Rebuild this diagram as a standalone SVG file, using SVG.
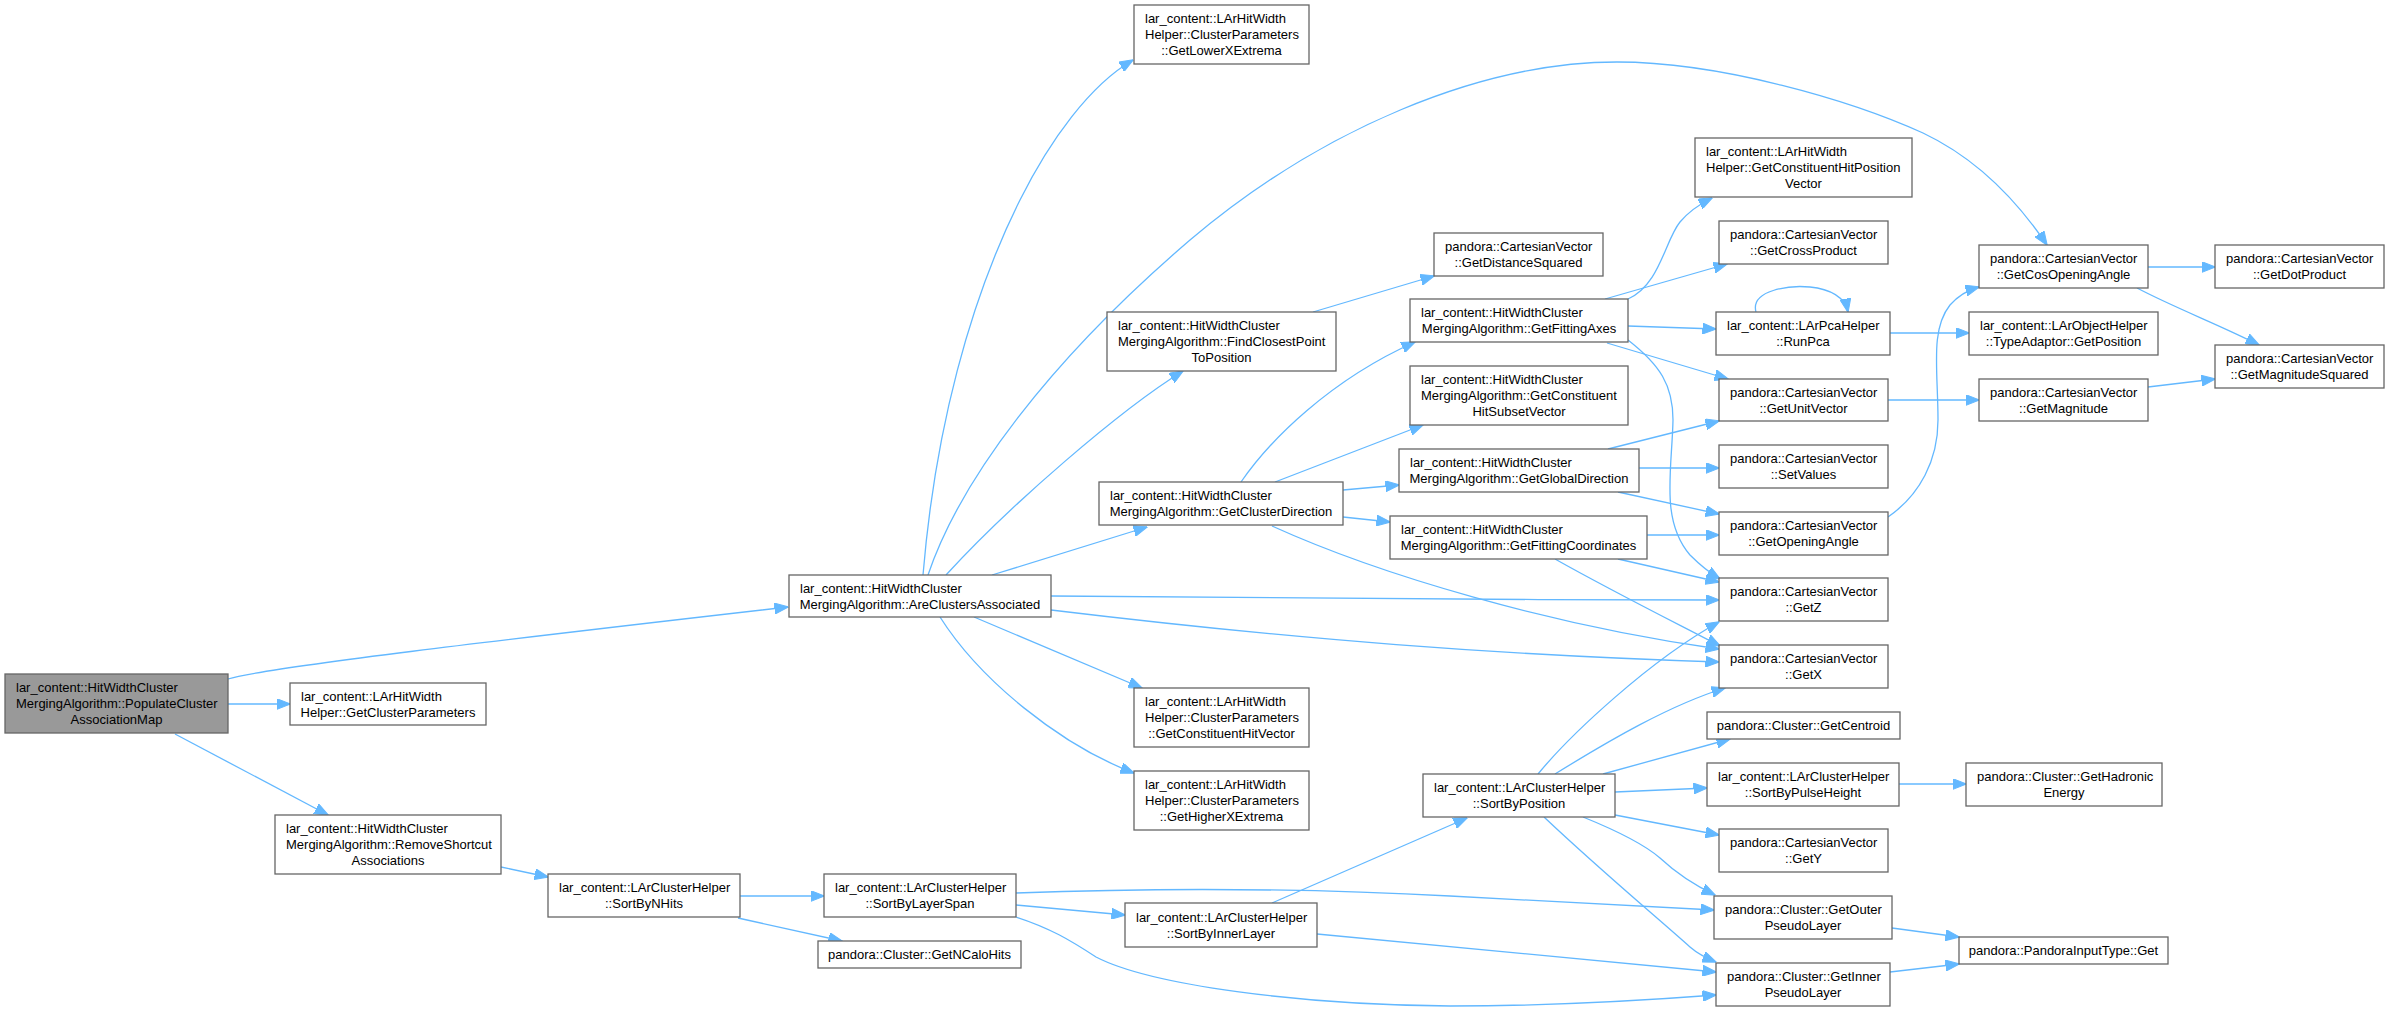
<svg xmlns="http://www.w3.org/2000/svg" width="2390" height="1013" viewBox="0 0 2390 1013">
<defs>
<style>
.n rect{fill:#ffffff;stroke:#666666;stroke-width:1.3}
.root rect{fill:#999999}
.n text{font-family:"Liberation Sans",Arial,Helvetica,sans-serif;font-size:13px;fill:#000000}
.m{text-anchor:middle}
#edges path{fill:none;stroke:#63b8ff;stroke-width:1.3;marker-end:url(#ah)}
</style>
<marker id="ah" markerUnits="userSpaceOnUse" markerWidth="14" markerHeight="11" viewBox="0 0 14 11" refX="13.5" refY="5.5" orient="auto">
<path d="M0,0 L14,5.5 L0,11 Z" fill="#63b8ff" stroke="#63b8ff" stroke-width="1"/>
</marker>
</defs>
<rect x="0" y="0" width="2390" height="1013" fill="#ffffff"/>
<g id="edges">
<path d="M228,679 C262,668 500,640 788,607"/>
<path d="M228,704 L290,704"/>
<path d="M175,734 L328,815"/>
<path d="M501,867 L548,877"/>
<path d="M740,896 L824,896"/>
<path d="M738,918 L842,941"/>
<path d="M923,575 C935,430 970,300 1020,200 C1050,140 1090,85 1133,60"/>
<path d="M928,575 C960,480 1050,360 1190,240 C1320,130 1480,62 1617,62 C1720,62 1850,100 1923,133 C1980,160 2020,205 2047,245"/>
<path d="M946,575 C1010,505 1120,410 1183,371"/>
<path d="M992,575 L1147,527"/>
<path d="M1051,596 C1300,598 1500,600 1719,600"/>
<path d="M1051,610 C1300,640 1500,655 1719,662"/>
<path d="M974,617 L1142,688"/>
<path d="M940,617 C980,680 1060,745 1134,773"/>
<path d="M1313,312 L1434,276"/>
<path d="M1241,482 C1270,440 1330,380 1415,342"/>
<path d="M1275,482 L1423,425"/>
<path d="M1343,490 L1399,485"/>
<path d="M1343,517 L1390,522"/>
<path d="M1272,526 C1380,575 1550,625 1719,649"/>
<path d="M1628,299 C1660,285 1665,240 1680,222 C1690,210 1700,204 1712,198"/>
<path d="M1605,299 L1727,264"/>
<path d="M1628,326 L1716,329"/>
<path d="M1607,343 L1728,379"/>
<path d="M1628,340 C1660,365 1673,385 1673,420 C1672,470 1660,520 1690,555 C1700,565 1710,573 1720,579"/>
<path d="M1608,449 L1719,421"/>
<path d="M1639,468 L1719,468"/>
<path d="M1618,492 L1719,514"/>
<path d="M1647,535 L1719,535"/>
<path d="M1618,559 L1719,582"/>
<path d="M1555,559 C1610,590 1670,620 1720,646"/>
<path d="M1016,905 L1125,915"/>
<path d="M1016,893 C1150,888 1300,888 1450,896 C1560,902 1650,906 1714,910"/>
<path d="M1016,917 C1050,928 1070,940 1096,957 C1150,985 1300,1005 1450,1006 C1560,1006 1650,1000 1716,995"/>
<path d="M1272,903 L1467,818"/>
<path d="M1317,934 L1716,972"/>
<path d="M1538,774 C1570,735 1650,660 1719,622"/>
<path d="M1555,774 C1610,740 1670,705 1725,688"/>
<path d="M1603,774 L1730,739"/>
<path d="M1615,792 L1707,788"/>
<path d="M1615,815 L1719,835"/>
<path d="M1583,817 C1620,832 1645,845 1660,858 C1675,872 1690,883 1715,895"/>
<path d="M1544,817 C1600,870 1660,920 1690,947 C1698,954 1706,958 1716,962"/>
<path d="M1899,784 L1966,784"/>
<path d="M1892,928 L1959,937"/>
<path d="M1890,972 L1959,964"/>
<path d="M1756,312 C1750,290 1790,285 1810,287 C1830,289 1845,297 1848,312"/>
<path d="M1890,333 L1969,333"/>
<path d="M1888,400 L1979,400"/>
<path d="M1888,517 C1920,495 1938,460 1938,420 C1938,370 1930,330 1950,305 C1958,296 1968,290 1979,287"/>
<path d="M2148,387 L2215,379"/>
<path d="M2148,267 L2215,267"/>
<path d="M2137,288 C2175,308 2220,325 2259,345"/>
</g>
<g id="node-PopulateClusterAssociationMap" class="n root">
<rect x="5" y="674" width="223" height="59"/>
<text x="16" y="692">lar_content::HitWidthCluster</text>
<text x="16" y="708">MergingAlgorithm::PopulateCluster</text>
<text x="116.5" y="724" class="m">AssociationMap</text>
</g>
<g id="node-GetClusterParameters" class="n">
<rect x="290" y="683" width="196" height="42"/>
<text x="301" y="700.5">lar_content::LArHitWidth</text>
<text x="388" y="716.5" class="m">Helper::GetClusterParameters</text>
</g>
<g id="node-RemoveShortcutAssociations" class="n">
<rect x="275" y="815" width="226" height="59"/>
<text x="286" y="833">lar_content::HitWidthCluster</text>
<text x="286" y="849">MergingAlgorithm::RemoveShortcut</text>
<text x="388" y="865" class="m">Associations</text>
</g>
<g id="node-SortByNHits" class="n">
<rect x="548" y="874" width="192" height="43"/>
<text x="559" y="892">lar_content::LArClusterHelper</text>
<text x="644" y="908" class="m">::SortByNHits</text>
</g>
<g id="node-AreClustersAssociated" class="n">
<rect x="789" y="575" width="262" height="42"/>
<text x="800" y="592.5">lar_content::HitWidthCluster</text>
<text x="920" y="608.5" class="m">MergingAlgorithm::AreClustersAssociated</text>
</g>
<g id="node-SortByLayerSpan" class="n">
<rect x="824" y="874" width="192" height="43"/>
<text x="835" y="892">lar_content::LArClusterHelper</text>
<text x="920" y="908" class="m">::SortByLayerSpan</text>
</g>
<g id="node-GetNCaloHits" class="n">
<rect x="818" y="941" width="203" height="27"/>
<text x="919.5" y="959" class="m">pandora::Cluster::GetNCaloHits</text>
</g>
<g id="node-GetLowerXExtrema" class="n">
<rect x="1134" y="5" width="175" height="59"/>
<text x="1145" y="23">lar_content::LArHitWidth</text>
<text x="1145" y="39">Helper::ClusterParameters</text>
<text x="1221.5" y="55" class="m">::GetLowerXExtrema</text>
</g>
<g id="node-FindClosestPointToPosition" class="n">
<rect x="1107" y="312" width="229" height="59"/>
<text x="1118" y="330">lar_content::HitWidthCluster</text>
<text x="1118" y="346">MergingAlgorithm::FindClosestPoint</text>
<text x="1221.5" y="362" class="m">ToPosition</text>
</g>
<g id="node-GetClusterDirection" class="n">
<rect x="1099" y="482" width="244" height="43"/>
<text x="1110" y="500">lar_content::HitWidthCluster</text>
<text x="1221" y="516" class="m">MergingAlgorithm::GetClusterDirection</text>
</g>
<g id="node-GetConstituentHitVector" class="n">
<rect x="1134" y="688" width="175" height="59"/>
<text x="1145" y="706">lar_content::LArHitWidth</text>
<text x="1145" y="722">Helper::ClusterParameters</text>
<text x="1221.5" y="738" class="m">::GetConstituentHitVector</text>
</g>
<g id="node-GetHigherXExtrema" class="n">
<rect x="1134" y="771" width="175" height="59"/>
<text x="1145" y="789">lar_content::LArHitWidth</text>
<text x="1145" y="805">Helper::ClusterParameters</text>
<text x="1221.5" y="821" class="m">::GetHigherXExtrema</text>
</g>
<g id="node-SortByInnerLayer" class="n">
<rect x="1125" y="903" width="192" height="44"/>
<text x="1136" y="921.5">lar_content::LArClusterHelper</text>
<text x="1221" y="937.5" class="m">::SortByInnerLayer</text>
</g>
<g id="node-GetDistanceSquared" class="n">
<rect x="1434" y="233" width="169" height="43"/>
<text x="1445" y="251">pandora::CartesianVector</text>
<text x="1518.5" y="267" class="m">::GetDistanceSquared</text>
</g>
<g id="node-GetFittingAxes" class="n">
<rect x="1410" y="299" width="218" height="43"/>
<text x="1421" y="317">lar_content::HitWidthCluster</text>
<text x="1519" y="333" class="m">MergingAlgorithm::GetFittingAxes</text>
</g>
<g id="node-GetConstituentHitSubsetVector" class="n">
<rect x="1410" y="366" width="218" height="59"/>
<text x="1421" y="384">lar_content::HitWidthCluster</text>
<text x="1421" y="400">MergingAlgorithm::GetConstituent</text>
<text x="1519" y="416" class="m">HitSubsetVector</text>
</g>
<g id="node-GetGlobalDirection" class="n">
<rect x="1399" y="449" width="240" height="43"/>
<text x="1410" y="467">lar_content::HitWidthCluster</text>
<text x="1519" y="483" class="m">MergingAlgorithm::GetGlobalDirection</text>
</g>
<g id="node-GetFittingCoordinates" class="n">
<rect x="1390" y="516" width="257" height="43"/>
<text x="1401" y="534">lar_content::HitWidthCluster</text>
<text x="1518.5" y="550" class="m">MergingAlgorithm::GetFittingCoordinates</text>
</g>
<g id="node-SortByPosition" class="n">
<rect x="1423" y="774" width="192" height="43"/>
<text x="1434" y="792">lar_content::LArClusterHelper</text>
<text x="1519" y="808" class="m">::SortByPosition</text>
</g>
<g id="node-GetConstituentHitPositionVector" class="n">
<rect x="1695" y="138" width="217" height="59"/>
<text x="1706" y="156">lar_content::LArHitWidth</text>
<text x="1706" y="172">Helper::GetConstituentHitPosition</text>
<text x="1803.5" y="188" class="m">Vector</text>
</g>
<g id="node-GetCrossProduct" class="n">
<rect x="1719" y="221" width="169" height="43"/>
<text x="1730" y="239">pandora::CartesianVector</text>
<text x="1803.5" y="255" class="m">::GetCrossProduct</text>
</g>
<g id="node-RunPca" class="n">
<rect x="1716" y="312" width="174" height="43"/>
<text x="1727" y="330">lar_content::LArPcaHelper</text>
<text x="1803" y="346" class="m">::RunPca</text>
</g>
<g id="node-GetUnitVector" class="n">
<rect x="1719" y="379" width="169" height="42"/>
<text x="1730" y="396.5">pandora::CartesianVector</text>
<text x="1803.5" y="412.5" class="m">::GetUnitVector</text>
</g>
<g id="node-SetValues" class="n">
<rect x="1719" y="445" width="169" height="43"/>
<text x="1730" y="463">pandora::CartesianVector</text>
<text x="1803.5" y="479" class="m">::SetValues</text>
</g>
<g id="node-GetOpeningAngle" class="n">
<rect x="1719" y="512" width="169" height="43"/>
<text x="1730" y="530">pandora::CartesianVector</text>
<text x="1803.5" y="546" class="m">::GetOpeningAngle</text>
</g>
<g id="node-GetZ" class="n">
<rect x="1719" y="578" width="169" height="43"/>
<text x="1730" y="596">pandora::CartesianVector</text>
<text x="1803.5" y="612" class="m">::GetZ</text>
</g>
<g id="node-GetX" class="n">
<rect x="1719" y="645" width="169" height="43"/>
<text x="1730" y="663">pandora::CartesianVector</text>
<text x="1803.5" y="679" class="m">::GetX</text>
</g>
<g id="node-GetCentroid" class="n">
<rect x="1707" y="712" width="193" height="27"/>
<text x="1803.5" y="730" class="m">pandora::Cluster::GetCentroid</text>
</g>
<g id="node-SortByPulseHeight" class="n">
<rect x="1707" y="763" width="192" height="43"/>
<text x="1718" y="781">lar_content::LArClusterHelper</text>
<text x="1803" y="797" class="m">::SortByPulseHeight</text>
</g>
<g id="node-GetY" class="n">
<rect x="1719" y="829" width="169" height="43"/>
<text x="1730" y="847">pandora::CartesianVector</text>
<text x="1803.5" y="863" class="m">::GetY</text>
</g>
<g id="node-GetOuterPseudoLayer" class="n">
<rect x="1714" y="896" width="178" height="43"/>
<text x="1725" y="914">pandora::Cluster::GetOuter</text>
<text x="1803" y="930" class="m">PseudoLayer</text>
</g>
<g id="node-GetInnerPseudoLayer" class="n">
<rect x="1716" y="963" width="174" height="43"/>
<text x="1727" y="981">pandora::Cluster::GetInner</text>
<text x="1803" y="997" class="m">PseudoLayer</text>
</g>
<g id="node-GetCosOpeningAngle" class="n">
<rect x="1979" y="245" width="169" height="43"/>
<text x="1990" y="263">pandora::CartesianVector</text>
<text x="2063.5" y="279" class="m">::GetCosOpeningAngle</text>
</g>
<g id="node-TypeAdaptorGetPosition" class="n">
<rect x="1969" y="312" width="189" height="43"/>
<text x="1980" y="330">lar_content::LArObjectHelper</text>
<text x="2063.5" y="346" class="m">::TypeAdaptor::GetPosition</text>
</g>
<g id="node-GetMagnitude" class="n">
<rect x="1979" y="379" width="169" height="42"/>
<text x="1990" y="396.5">pandora::CartesianVector</text>
<text x="2063.5" y="412.5" class="m">::GetMagnitude</text>
</g>
<g id="node-GetHadronicEnergy" class="n">
<rect x="1966" y="763" width="196" height="43"/>
<text x="1977" y="781">pandora::Cluster::GetHadronic</text>
<text x="2064" y="797" class="m">Energy</text>
</g>
<g id="node-PandoraInputTypeGet" class="n">
<rect x="1959" y="937" width="209" height="27"/>
<text x="2063.5" y="955" class="m">pandora::PandoraInputType::Get</text>
</g>
<g id="node-GetDotProduct" class="n">
<rect x="2215" y="245" width="169" height="43"/>
<text x="2226" y="263">pandora::CartesianVector</text>
<text x="2299.5" y="279" class="m">::GetDotProduct</text>
</g>
<g id="node-GetMagnitudeSquared" class="n">
<rect x="2215" y="345" width="169" height="43"/>
<text x="2226" y="363">pandora::CartesianVector</text>
<text x="2299.5" y="379" class="m">::GetMagnitudeSquared</text>
</g>
</svg>
